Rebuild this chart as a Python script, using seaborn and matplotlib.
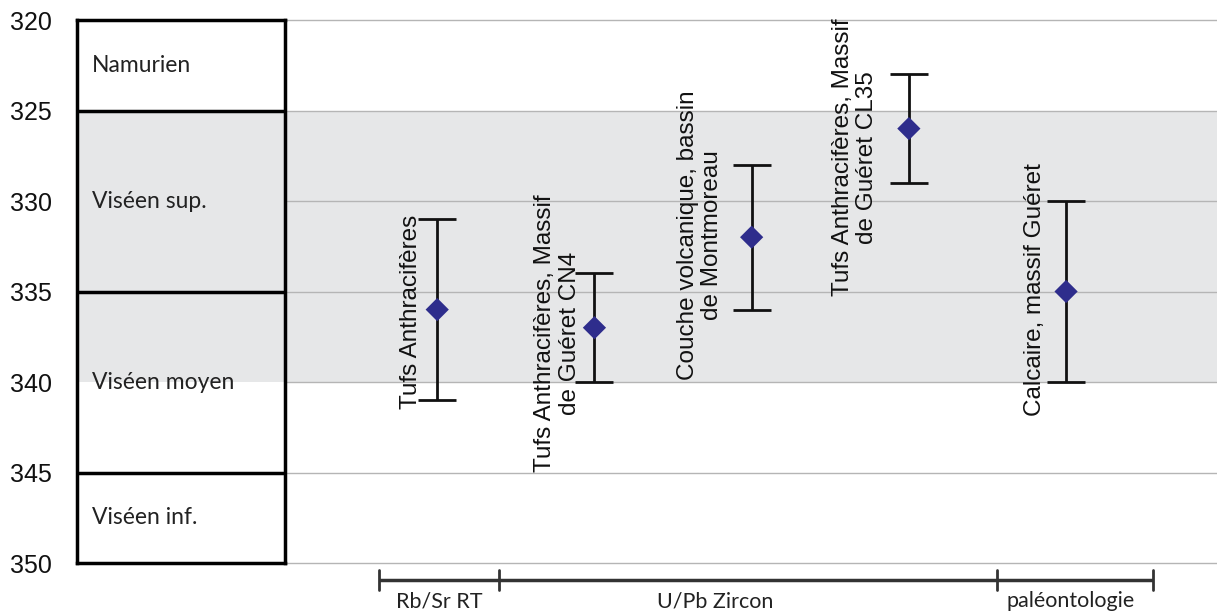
import matplotlib
matplotlib.use("Agg")
import matplotlib.pyplot as plt
import matplotlib.transforms as mtransforms
import seaborn as sns
import pandas as pd

# ---- data ----
samples = ["Tufs Anthracifères",
           "Tufs Anthracifères, Massif\nde Guéret CN4",
           "Couche volcanique, bassin\nde Montmoreau",
           "Tufs Anthracifères, Massif\nde Guéret CL35",
           "Calcaire, massif Guéret"]
ages = [336, 337, 332, 326, 335]
errors = [5, 3, 4, 3, 5]
methods = ["Rb/Sr RT", "U/Pb Zircon", "paléontologie"]
method_bounds = [0.63, 1.39, 4.56, 5.55]
method_label_x = [1.01, 2.77, 5.03]
stages = ["Namurien", "Viséen sup.", "Viséen moyen", "Viséen inf."]
stage_bounds = [320, 325, 335, 345, 350]
stage_label_y = [322.5, 330, 340, 347.5]
yticks = [320, 325, 330, 335, 340, 345, 350]

# label placement (offsets from point)
label_dx = [-0.165, -0.235, -0.33, -0.34, -0.20]
label_y = [336.1, 337.3, 331.9, 327.6, 334.9]

sns.set_theme(style="white")
plt.rcParams['font.family'] = ['Liberation Sans', 'DejaVu Sans']

W, H = 1217, 612
fig = plt.figure(figsize=(W / 100, H / 100), dpi=100)
top_px, bot_px = 20, 563
ax = fig.add_axes([280 / W, 1 - bot_px / H, (W - 280) / W, (bot_px - top_px) / H])
axc = fig.add_axes([77 / W, 1 - bot_px / H, 208 / W, (bot_px - top_px) / H], sharey=ax)

band = "#e6e7e8"
grid = "#b5b5b5"

# ---- data axes ----
ax.set_ylim(350, 320)
ax.set_xlim(0.0, 5.96)
ax.axhspan(325, 340, color=band, zorder=0, lw=0)
for t in yticks:
    ax.axhline(t, color=grid, lw=1.0, zorder=1, clip_on=False)
for s in ax.spines.values():
    s.set_visible(False)
ax.set_xticks([])
ax.tick_params(axis="y", left=False, labelleft=False)

xs = list(range(1, len(samples) + 1))
df = pd.DataFrame({"x": xs, "age": ages, "err": errors, "sample": samples})
ax.errorbar(df["x"], df["age"], yerr=df["err"], fmt="none", ecolor="#111111",
            elinewidth=2.0, capsize=14, capthick=2.0, zorder=3)
sns.scatterplot(data=df, x="x", y="age", marker="D", s=140, color="#2e2d8c",
                edgecolor="none", ax=ax, zorder=4)
ax.set_xlabel("")
ax.set_ylabel("")

for x, ly, dx, lab in zip(xs, label_y, label_dx, samples):
    ax.text(x + dx, ly, lab, rotation=90, ha="center", va="center",
            multialignment="center", fontsize=17.5, color="#111111",
            linespacing=1.12, zorder=5)

# method bracket
trans = mtransforms.blended_transform_factory(ax.transData, ax.transAxes)
yb = -0.031
ax.plot([method_bounds[0], method_bounds[-1]], [yb, yb], color="#333333", lw=2.5,
        transform=trans, clip_on=False, solid_capstyle="butt")
for b in method_bounds:
    ax.plot([b, b], [yb - 0.019, yb + 0.019], color="#333333", lw=2.0,
            transform=trans, clip_on=False)
for mx, m in zip(method_label_x, methods):
    ax.text(mx, -0.07, m, ha="center", va="center", fontsize=15.5,
            family=["Lato", "DejaVu Sans"], color="#222222",
            transform=trans, clip_on=False)

# ---- stratigraphic column ----
axc.set_xlim(0, 1)
axc.axhspan(325, 340, color=band, zorder=0, lw=0)
for b in stage_bounds[1:-1]:
    axc.axhline(b, color="black", lw=2.5, zorder=2)
for s in axc.spines.values():
    s.set_visible(True)
    s.set_color("black")
    s.set_linewidth(2.5)
axc.set_xticks([])
axc.set_yticks(yticks)
axc.set_yticklabels([str(t) for t in yticks], fontsize=18, color="#111111")
axc.tick_params(axis="y", length=0, pad=18, left=False)
for sy, st in zip(stage_label_y, stages):
    axc.text(0.072, sy, st, ha="left", va="center", fontsize=16.5,
             family=["Lato", "DejaVu Sans"], color="#222222", zorder=3)
ax.set_ylim(350, 320)

fig.savefig("out.png", dpi=100)
